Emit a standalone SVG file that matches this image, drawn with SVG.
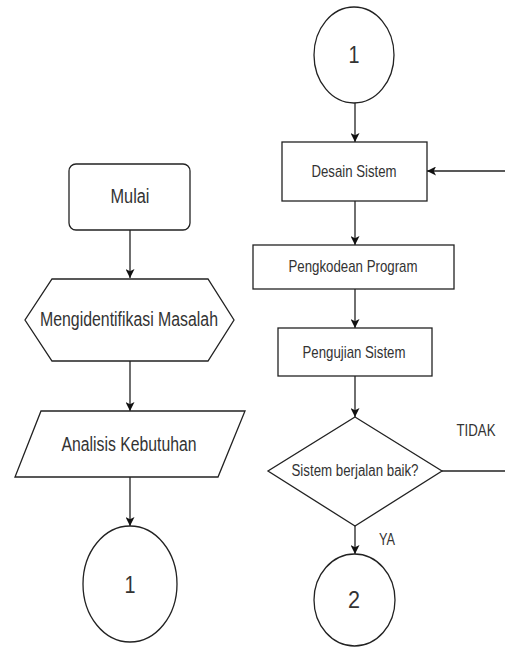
<svg xmlns="http://www.w3.org/2000/svg" width="505" height="647" viewBox="0 0 505 647">
<style>
.s{fill:#fff;stroke:#222;stroke-width:1.3}
.c{fill:none;stroke:#222;stroke-width:1.3}
text{font-family:"Liberation Sans",Arial,sans-serif;fill:#333;text-anchor:middle}
.b{font-size:20px}
.m{font-size:17px}
.n{font-size:16px}
.d{font-size:24px}
</style>
<defs>
<marker id="ah" viewBox="0 0 10 10" refX="10" refY="5" markerWidth="9" markerHeight="9" markerUnits="userSpaceOnUse" orient="auto">
<path d="M0,0 L10,5 L0,10 L2.5,5 Z" fill="#111"/>
</marker>
</defs>
<rect width="505" height="647" fill="#fff"/>
<g id="connectors">
<line class="c" x1="130" y1="230" x2="130" y2="278" marker-end="url(#ah)"/>
<line class="c" x1="130" y1="361" x2="130" y2="411" marker-end="url(#ah)"/>
<line class="c" x1="130" y1="477" x2="130" y2="526" marker-end="url(#ah)"/>
<line class="c" x1="355" y1="102" x2="355" y2="142" marker-end="url(#ah)"/>
<line class="c" x1="505" y1="171" x2="427" y2="171" marker-end="url(#ah)"/>
<line class="c" x1="355" y1="201" x2="355" y2="245" marker-end="url(#ah)"/>
<line class="c" x1="355" y1="289" x2="355" y2="328" marker-end="url(#ah)"/>
<line class="c" x1="355" y1="376" x2="355" y2="417" marker-end="url(#ah)"/>
<line class="c" x1="442" y1="471" x2="505" y2="471"/>
<line class="c" x1="355" y1="526" x2="355" y2="554" marker-end="url(#ah)"/>
<text class="n" x="476" y="436" textLength="39" lengthAdjust="spacingAndGlyphs">TIDAK</text>
<text class="n" x="387" y="545" textLength="16" lengthAdjust="spacingAndGlyphs">YA</text>
</g>
<g id="mulai">
<rect class="s" x="69" y="164" width="121" height="66" rx="7"/>
<text class="b" x="130" y="203" textLength="39" lengthAdjust="spacingAndGlyphs">Mulai</text>
</g>
<g id="identifikasi">
<polygon class="s" points="52,279 208,279 234,320 208,361 52,361 25,320"/>
<text class="b" x="129" y="326" textLength="178" lengthAdjust="spacingAndGlyphs">Mengidentifikasi Masalah</text>
</g>
<g id="analisis">
<polygon class="s" points="41,411 245,411 218,477 15,477"/>
<text class="b" x="129" y="451" textLength="135" lengthAdjust="spacingAndGlyphs">Analisis Kebutuhan</text>
</g>
<g id="konektor1a">
<ellipse class="s" cx="130" cy="584" rx="47" ry="58"/>
<text class="d" x="130" y="593" textLength="11" lengthAdjust="spacingAndGlyphs">1</text>
</g>
<g id="konektor1b">
<ellipse class="s" cx="354" cy="55" rx="40" ry="48"/>
<text class="d" x="354" y="63" textLength="11" lengthAdjust="spacingAndGlyphs">1</text>
</g>
<g id="desain">
<rect class="s" x="282" y="142" width="145" height="59"/>
<text class="m" x="354" y="177" textLength="85" lengthAdjust="spacingAndGlyphs">Desain Sistem</text>
</g>
<g id="pengkodean">
<rect class="s" x="253" y="245" width="201" height="44"/>
<text class="m" x="353" y="272" textLength="129" lengthAdjust="spacingAndGlyphs">Pengkodean Program</text>
</g>
<g id="pengujian">
<rect class="s" x="278" y="328" width="154" height="48"/>
<text class="m" x="354" y="358" textLength="103" lengthAdjust="spacingAndGlyphs">Pengujian Sistem</text>
</g>
<g id="keputusan">
<polygon class="s" points="355,417 442,471 355,526 268,471"/>
<text class="n" x="355" y="476" textLength="127" lengthAdjust="spacingAndGlyphs">Sistem berjalan baik?</text>
</g>
<g id="konektor2">
<ellipse class="s" cx="354.5" cy="600" rx="40.5" ry="46"/>
<text class="d" x="354" y="608" textLength="12" lengthAdjust="spacingAndGlyphs">2</text>
</g>
</svg>
